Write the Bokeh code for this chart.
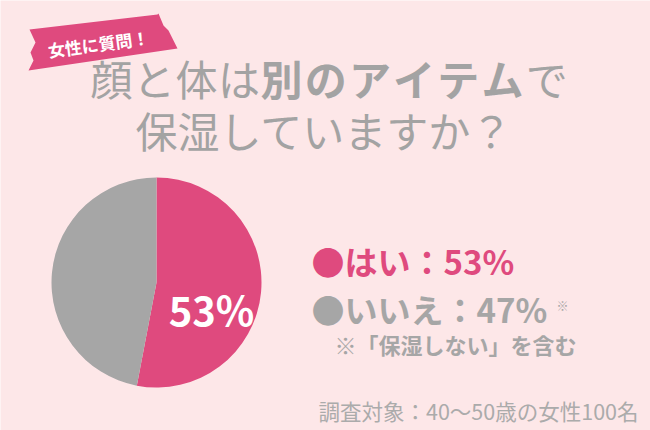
import math
from bokeh.plotting import figure
from bokeh.models import Range1d
from bokeh.core.properties import value
from bokeh.embed import file_html
from bokeh.resources import INLINE

# ---- data ----
categories = ["はい", "いいえ"]
percents = [53, 47]
colors = ["#DF4A7E", "#A6A6A6"]
tag_text = "女性に質問！"
title_line1 = ["顔と体は", "別のアイテム", "で"]
title_line2 = "保湿していますか？"
note_mark = "※"
note_text = "※「保湿しない」を含む"
source_text = "調査対象：40〜50歳の女性100名"

BG = "#FDE7E8"
GRAY = "#A3A3A3"
FONT = "Noto Sans CJK JP"
W, H = 650, 430

p = figure(width=W, height=H, output_backend="svg", toolbar_location=None,
           x_range=Range1d(0, W), y_range=Range1d(0, H), min_border=0)
p.axis.visible = False
p.grid.visible = False
p.outline_line_color = None
p.background_fill_color = BG
p.border_fill_color = BG

def X(px):  # reference pixel -> data
    return px
def Y(py):
    return H - py

# ---- tag ribbon (decoration) ----
rib_x = [29, 157, 158, 163, 168, 172, 177, 28, 33, 30, 35]
rib_y = [29, 14, 13, 25, 30, 38, 48, 70, 60, 52, 42]
p.patch([X(v) for v in rib_x], [Y(v) for v in rib_y], fill_color=colors[0], line_color=None)
p.text(x=[X(98)], y=[Y(43)], text=[tag_text], angle=math.radians(7.5),
       text_align="center", text_baseline="middle", text_color="white",
       text_font=value(FONT), text_font_style="bold", text_font_size="17px")

# ---- title (line 1 laid out glyph by glyph, bold part slightly spaced) ----
seg_style = ["normal", "bold", "normal"]
seg_adv = [42.5, 44.2, 42.5]
cx0 = 90.0
for st, adv, s in zip(seg_style, seg_adv, title_line1):
    for ch in s:
        p.text(x=[X(cx0)], y=[Y(77)], text=[ch], text_align="left", text_baseline="middle",
               text_color=GRAY, text_font=value(FONT), text_font_style=st, text_font_size="42px")
        cx0 += adv
p.text(x=[X(324)], y=[Y(129)], text=[title_line2], text_align="center", text_baseline="middle",
       text_color=GRAY, text_font=value(FONT), text_font_size="42px")

# ---- pie ----
cx, cy, r = X(156), Y(282), 105
total = sum(percents)
starts, ends = [], []
acc = 0.0
for v in percents:
    a0 = math.pi / 2 - 2 * math.pi * acc / total
    acc += v
    a1 = math.pi / 2 - 2 * math.pi * acc / total
    starts.append(a0)
    ends.append(a1)
p.wedge(x=[cx] * len(percents), y=[cy] * len(percents), radius=r,
        start_angle=starts, end_angle=ends, direction="clock",
        fill_color=colors, line_color=None)
p.text(x=[X(211)], y=[Y(308)], text=[f"{percents[0]}%"], text_align="center",
       text_baseline="middle", text_color="white", text_font=value(FONT),
       text_font_style="bold", text_font_size="40px")

# ---- legend ----
leg_y = [260, 308]
for lab, v, c, ly in zip(categories, percents, colors, leg_y):
    p.text(x=[X(311)], y=[Y(ly)], text=[f"●{lab}：{v}%"], text_align="left",
           text_baseline="middle", text_color=c, text_font=value(FONT),
           text_font_style="bold", text_font_size="33px")
p.text(x=[X(562)], y=[Y(305)], text=[note_mark], text_align="center", text_baseline="middle",
       text_color=colors[1], text_font=value(FONT), text_font_size="12px")
p.text(x=[X(334)], y=[Y(343)], text=[note_text], text_align="left", text_baseline="middle",
       text_color=colors[1], text_font=value(FONT), text_font_style="bold", text_font_size="22px")

# ---- source ----
p.text(x=[X(638)], y=[Y(410)], text=[source_text], text_align="right", text_baseline="middle",
       text_color="#ABABAB", text_font=value(FONT), text_font_size="21.5px")

html = file_html(p, INLINE)
open("out.html", "w").write(html)
